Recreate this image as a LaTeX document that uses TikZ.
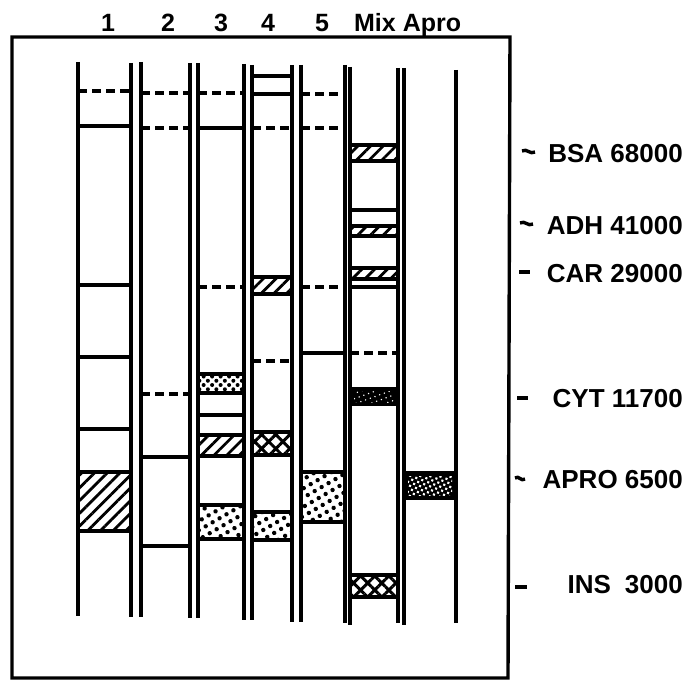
\documentclass[tikz,border=0pt]{standalone}
\usepackage{fontspec}
\setmainfont{Liberation Sans}
\usetikzlibrary{patterns.meta}
\begin{document}
\begin{tikzpicture}[x=1pt,y=-1pt,
  lane/.style={line width=3.2pt},
  sline/.style={line width=3.6pt},
  dline/.style={line width=3.6pt, dash pattern=on 9pt off 5pt},
  frame/.style={line width=3.4pt},
  tick/.style={line width=3.4pt},
  hatchband/.style={line width=3.4pt, pattern={Lines[angle=45,distance=9pt,line width=2.8pt]}},
  dotband/.style={line width=3.4pt, pattern={Dots[radius=2.2pt,distance=8pt,angle=30]}},
  xdotband/.style={line width=3.4pt, pattern={Dots[radius=2pt,distance=6pt,angle=45]}},
  crossband/.style={line width=3.4pt, pattern={Hatch[angle=45,distance=10pt,line width=3pt]}},
  lbl/.style={font=\bfseries\fontsize{25}{29}\selectfont, inner sep=0pt, anchor=base},
  rlbl/.style={font=\bfseries\fontsize{26}{30}\selectfont, inner sep=0pt, anchor=base east}
]
\useasboundingbox (0,0) rectangle (689,682);

% frame
\draw[frame] (12,37) -- (510,37) -- (508,678) -- (12,678) -- cycle;

% lane labels
\node[lbl] (t1) at (108,32) {1};
\node[lbl] (t2) at (168,32) {2};
\node[lbl] (t3) at (221,32) {3};
\node[lbl] (t4) at (268,32) {4};
\node[lbl] (t5) at (322,32) {5};
\node[lbl] (tm) at (375,32) {Mix};
\node[lbl] (ta) at (432,32) {Apro};

% lanes
\draw[lane] (78,62) -- (78,616);   \draw[lane] (131,63) -- (131,617);
\draw[lane] (141,62) -- (141,617); \draw[lane] (190,63) -- (190,618);
\draw[lane] (198,63) -- (198,618); \draw[lane] (244,64) -- (244,620);
\draw[lane] (252,65) -- (252,620); \draw[lane] (292,65) -- (292,622);
\draw[lane] (301,65) -- (301,622); \draw[lane] (345,65) -- (345,623);
\draw[lane] (350,67) -- (350,625); \draw[lane] (398,68) -- (398,623);
\draw[lane] (404,68) -- (404,625); \draw[lane] (456,70) -- (456,623);

% lane 1
\draw[dline] (78,91) -- (131,91);
\draw[sline] (78,126) -- (131,126);
\draw[sline] (78,285) -- (131,285);
\draw[sline] (78,357) -- (131,357);
\draw[sline] (78,429) -- (131,429);
\draw[hatchband] (78,472) rectangle (131,531);

% lane 2
\draw[dline] (141,93) -- (190,93);
\draw[dline] (141,128) -- (190,128);
\draw[dline] (141,394) -- (190,394);
\draw[sline] (141,457) -- (190,457);
\draw[sline] (141,546) -- (190,546);

% lane 3
\draw[dline] (198,93) -- (244,93);
\draw[sline] (198,128) -- (244,128);
\draw[dline] (198,287) -- (244,287);
\draw[xdotband] (198,374) rectangle (244,393);
\draw[sline] (198,415) -- (244,415);
\draw[hatchband] (198,435) rectangle (244,456);
\draw[dotband] (198,505) rectangle (244,539);

% lane 4
\draw[sline] (252,76) -- (292,76);
\draw[sline] (252,94) -- (292,94);
\draw[dline] (252,128) -- (292,128);
\draw[hatchband] (252,277) rectangle (292,294);
\draw[dline] (252,361) -- (292,361);
\draw[crossband] (252,432) rectangle (292,455);
\draw[dotband] (252,512) rectangle (292,540);

% lane 5
\draw[dline] (301,94) -- (345,94);
\draw[dline] (301,128) -- (345,128);
\draw[dline] (301,287) -- (345,287);
\draw[sline] (301,353) -- (345,353);
\draw[dotband] (301,472) rectangle (345,522);

% Mix
\draw[hatchband] (350,145) rectangle (398,161);
\draw[sline] (350,210) -- (398,210);
\draw[hatchband] (350,226) rectangle (398,236);
\draw[hatchband] (350,268) rectangle (398,279);
\draw[sline] (350,287) -- (398,287);
\draw[dline] (350,353) -- (398,353);
\fill[black] (350,387) rectangle (398,406);
\fill[pattern={Dots[radius=0.8pt,distance=5pt,angle=20]}, pattern color=white] (354,391) rectangle (394,402);
\draw[crossband] (350,575) rectangle (398,597);

% Apro
\fill[black] (404,471) rectangle (456,500);
\fill[pattern={Dots[radius=1.5pt,distance=4.5pt,angle=25]}, pattern color=white] (408,476) rectangle (452,495);

% marker ticks
\draw[tick] (522,151) .. controls (527,148) and (530,155) .. (535,152);
\draw[tick] (520,223) .. controls (525,220) and (528,227) .. (533,224);
\draw[tick] (519,272) -- (530,272);
\draw[tick] (517,398) -- (528,398);
\draw[tick] (515,478) .. controls (519,475) and (521,482) .. (525,479);
\draw[tick] (515,587) -- (527,587);

% marker labels
\node[rlbl] (m1) at (683,163) {BSA 68000};
\node[rlbl] (m2) at (683,235) {ADH 41000};
\node[rlbl] (m3) at (683,283) {CAR 29000};
\node[rlbl] (m4) at (683,407) {CYT 11700};
\node[rlbl] (m5) at (683,488) {APRO 6500};
\node[rlbl] (m6) at (683,593) {INS\hspace{14pt}3000};
\end{tikzpicture}
\end{document}
